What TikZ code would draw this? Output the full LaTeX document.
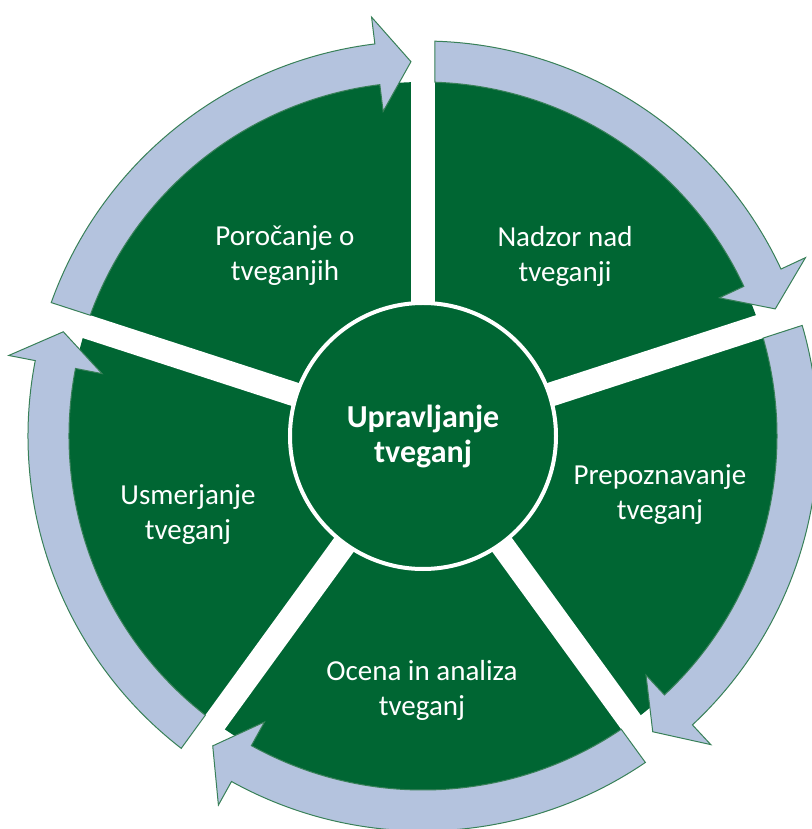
\documentclass[tikz,border=0pt]{standalone}
\usepackage{fontspec}
\setmainfont{Carlito}
\newcommand*{\cyclefont}{\fontsize{29}{35}\selectfont}
\newcommand*{\hubfont}{\fontsize{32}{35}\selectfont\bfseries}
\definecolor{G}{RGB}{0,102,51}
\definecolor{B}{RGB}{180,195,222}
\definecolor{L}{RGB}{56,128,88}
\usepackage{tikz}
\usetikzlibrary{positioning}
\tikzstyle{base}=[x=1pt, y=1pt, inner sep=0pt, outer sep=0pt]
\tikzstyle{band}=[fill=B, draw=L, line width=1pt, line join=miter]
\tikzstyle{hub}=[circle, fill=G, draw=white, line width=4pt, minimum size=266pt, text=white, align=center, font=\hubfont]
\tikzstyle{phase}=[text=white, align=center, font=\cyclefont]
\newcommand*{\cyclearrow}[1]{%
    \pgfmathsetmacro{\ta}{#1-1.74}
    \pgfmathsetmacro{\tb}{#1-1.94}
    \pgfmathsetmacro{\hb}{#1-72+7}
    \pgfmathsetmacro{\tp}{#1-72+1.84}
    \draw [band] (\ta:395pt) arc [start angle=\ta, end angle=\hb, radius=395pt]
        -- (\hb:422pt) -- (\tp:374.5pt) -- (\hb:327pt) -- (\hb:354pt)
        arc [start angle=\hb, end angle=\tb, radius=354pt] -- cycle;
}

\begin{document}
\begin{tikzpicture}[base]
    \useasboundingbox (-423,-393) rectangle (388,436);
    \fill [G] (0,0) circle (354pt);
    \fill [white, rotate=90] (0,-12) rectangle (440,12);
    \fill [white, rotate=18] (0,-12) rectangle (440,12);
    \fill [white, rotate=-54] (0,-12) rectangle (440,12);
    \fill [white, rotate=-126] (0,-12) rectangle (440,12);
    \fill [white, rotate=162] (0,-12) rectangle (440,12);
    \cyclearrow{90}
    \cyclearrow{18}
    \cyclearrow{-54}
    \cyclearrow{-126}
    \cyclearrow{162}
    \node [hub] (hub) at (0,0) {Upravljanje\\tveganj};
    \node [phase] (porocanje) at (-138,180) {Poročanje o\\tveganjih};
    \node [phase] (nadzor) at (142,180) {Nadzor nad\\tveganji};
    \node [phase] (prepoznavanje) at (237,-59) {Prepoznavanje\\tveganj};
    \node [phase] (ocena) at (-1,-254) {Ocena in analiza\\tveganj};
    \node [phase] (usmerjanje) at (-235,-79) {Usmerjanje\\tveganj};
\end{tikzpicture}
\end{document}
